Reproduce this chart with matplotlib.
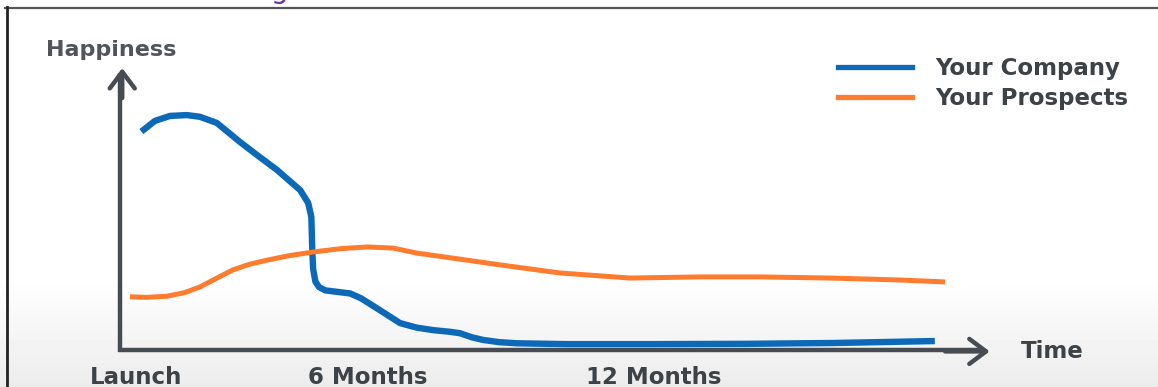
import matplotlib
matplotlib.use("Agg")
import matplotlib.pyplot as plt
from matplotlib.lines import Line2D
import numpy as np

# time in months, happiness on a 0-10 scale
company_t = [0.48, 0.78, 1.12, 1.50, 1.79, 2.17, 2.69, 3.10, 3.52, 4.04, 4.22, 4.29, 4.30,
             4.31, 4.33, 4.38, 4.46, 4.60, 4.85, 5.16, 5.40, 5.75, 6.28, 6.65, 7.02, 7.40,
             7.62, 7.90, 8.14, 8.50, 8.90, 10.0, 12.0, 14.0, 16.0, 18.27]
company_h = [7.80, 8.18, 8.36, 8.39, 8.33, 8.11, 7.43, 6.93, 6.43, 5.71, 5.25, 4.75, 4.20,
             3.60, 2.90, 2.45, 2.25, 2.13, 2.08, 2.02, 1.85, 1.50, 0.96, 0.80, 0.71, 0.65,
             0.60, 0.45, 0.36, 0.28, 0.24, 0.21, 0.21, 0.22, 0.25, 0.32]

prospects_t = [0.22, 0.60, 1.05, 1.45, 1.79, 2.15, 2.53, 2.90, 3.30, 3.80, 4.33, 4.95, 5.54,
               6.12, 6.66, 7.60, 8.52, 9.87, 11.43, 13.0, 14.35, 15.92, 17.49, 18.5]
prospects_h = [1.90, 1.88, 1.92, 2.05, 2.25, 2.55, 2.86, 3.06, 3.21, 3.37, 3.50, 3.62, 3.68,
               3.64, 3.46, 3.25, 3.04, 2.75, 2.57, 2.61, 2.61, 2.57, 2.50, 2.43]

series_names = ["Your Company", "Your Prospects"]
series_colors = ["#0b69b8", "#ff7b2e"]

tick_pos = [0.36, 5.56, 11.97]
tick_labels = ["Launch", "6 Months", "12 Months"]

axis_col = "#474c52"
text_col = "#3d4247"

fig = plt.figure(figsize=(11.58, 3.87), dpi=100)

# background: white fading to light grey at the bottom
bg = fig.add_axes([0, 0, 1, 1])
rows = np.linspace(0, 1, 387)
shade = np.where(rows < 0.72, 1.0, 1.0 - (rows - 0.72) / 0.28 * 0.075)
img = np.repeat(shade[:, None], 2, axis=1)
bg.imshow(img, cmap="gray", vmin=0, vmax=1, aspect="auto", extent=[0, 1, 0, 1])
bg.set_xlim(0, 1)
bg.set_ylim(0, 1)
bg.axis("off")

ax = fig.add_axes([0, 0, 1, 1])
ax.patch.set_alpha(0)
ax.set_xlim(-120 / 44.6, 1038 / 44.6)
ax.set_ylim(-37 / 28, 350 / 28)
ax.axis("off")

# axes with open arrow heads
ax.plot([0, 0], [-0.08, 9.9], color=axis_col, lw=3.2, solid_capstyle="butt")
ax.plot([-0.05, 19.3], [0, 0], color=axis_col, lw=3.2, solid_capstyle="butt")
ax.annotate("", xy=(0.05, 10.07), xytext=(0.05, 9.0),
            arrowprops=dict(arrowstyle="->,head_length=0.6,head_width=0.45",
                            color=axis_col, lw=3.2, mutation_scale=20,
                            shrinkA=0, shrinkB=0))
ax.annotate("", xy=(19.5, -0.05), xytext=(18.5, -0.05),
            arrowprops=dict(arrowstyle="->,head_length=0.6,head_width=0.45",
                            color=axis_col, lw=3.2, mutation_scale=20,
                            shrinkA=0, shrinkB=0))

ax.plot(company_t, company_h, color=series_colors[0], lw=4.6,
        solid_capstyle="butt", solid_joinstyle="round", label=series_names[0])
ax.plot(prospects_t, prospects_h, color=series_colors[1], lw=3.6,
        solid_capstyle="butt", solid_joinstyle="round", label=series_names[1])

ax.text(-0.2, 10.72, "Happiness", fontsize=16, fontweight="bold", color="#50555b",
        ha="center", va="center")
ax.text(20.9, -0.05, "Time", fontsize=16.5, fontweight="bold", color=text_col,
        ha="center", va="center")
for p, lab in zip(tick_pos, tick_labels):
    ax.text(p, -0.98, lab, fontsize=16.5, fontweight="bold", color=text_col,
            ha="center", va="center")

handles = [Line2D([0], [0], color=c, lw=3.8) for c in series_colors]
leg = fig.legend(handles, series_names, loc="upper left",
                 bbox_to_anchor=(838 / 1158, 1 - 57 / 387), frameon=False,
                 prop={"weight": "bold", "size": 16.5}, handlelength=3.23,
                 handletextpad=1.0, labelspacing=0.3, borderpad=0, borderaxespad=0)
for t in leg.get_texts():
    t.set_color(text_col)

# frame of the slide and the cut-off title above it
fig.add_artist(Line2D([5 / 1158, 1], [1 - 7.5 / 387] * 2, transform=fig.transFigure,
                      color="#555555", lw=1.6))
fig.add_artist(Line2D([6.5 / 1158] * 2, [0, 1 - 7 / 387], transform=fig.transFigure,
                      color="#222222", lw=2.0))
fig.text(279 / 1158, 1 + 1.5 / 387, "g", fontsize=20, color="#7030a0",
         ha="center", va="baseline")

fig.savefig("out.png", dpi=100)
